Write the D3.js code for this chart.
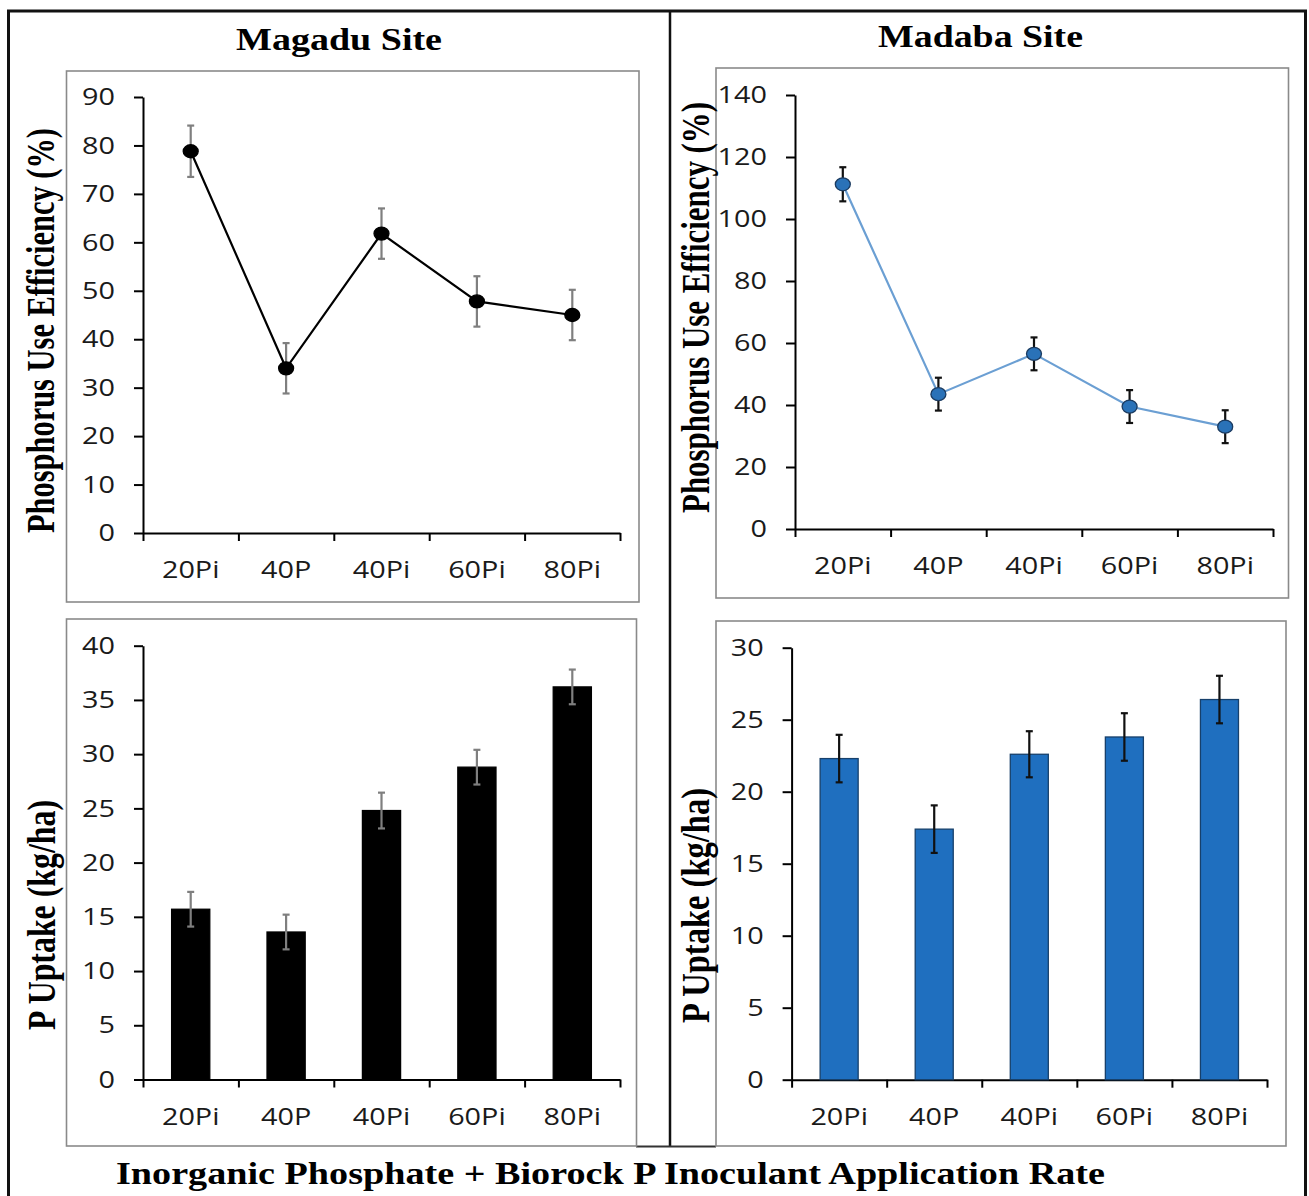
<!DOCTYPE html>
<html>
<head>
<meta charset="utf-8">
<script src="https://cdn.jsdelivr.net/npm/d3@7"></script>
<style>
body { margin: 0; background: #fff; }
</style>
</head>
<body>
<div id="chart"></div>
<script>
// treatments on the x axis
var categories = ["20Pi", "40P", "40Pi", "60Pi", "80Pi"];

// Magadu site
var magaduPUE = [78.8, 34.0, 61.8, 47.8, 45.0];
var magaduPUEErr = [5.3, 5.2, 5.2, 5.2, 5.2];
var magaduUptake = [15.7, 13.6, 24.8, 28.8, 36.2];
var magaduUptakeErr = [1.6, 1.6, 1.65, 1.6, 1.6];

// Madaba site
var madabaPUE = [111.2, 43.5, 56.5, 39.5, 33.0];
var madabaPUEErr = [5.5, 5.3, 5.3, 5.3, 5.3];
var madabaUptake = [22.3, 17.4, 22.6, 23.8, 26.4];
var madabaUptakeErr = [1.65, 1.65, 1.6, 1.65, 1.65];

// y axis tick values
var magaduPUETicks = [0, 10, 20, 30, 40, 50, 60, 70, 80, 90];
var madabaPUETicks = [0, 20, 40, 60, 80, 100, 120, 140];
var magaduUptakeTicks = [0, 5, 10, 15, 20, 25, 30, 35, 40];
var madabaUptakeTicks = [0, 5, 10, 15, 20, 25, 30];

var sansFont = "'Open Sans', 'Noto Sans', sans-serif";
var serifFont = "'Liberation Serif', 'Times New Roman', serif";
var stretch = 1.2; // the source picture is a bit wide

var svg = d3.select("#chart")
    .append("svg")
    .attr("width", 1309)
    .attr("height", 1196);

// outer frame and the divider between the two sites
svg.append("rect")
    .attr("x", 8.5).attr("y", 11)
    .attr("width", 1297).attr("height", 1200)
    .attr("fill", "none").attr("stroke", "#111").attr("stroke-width", 3);
svg.append("line")
    .attr("x1", 670).attr("x2", 670).attr("y1", 11).attr("y2", 1147)
    .attr("stroke", "#111").attr("stroke-width", 2.5);
svg.append("line")
    .attr("x1", 636).attr("x2", 716).attr("y1", 1146.5).attr("y2", 1146.5)
    .attr("stroke", "#333").attr("stroke-width", 2);

// site titles
function title(txt, x0, x1, baseline) {
    svg.append("text")
        .attr("x", (x0 + x1) / 2).attr("y", baseline)
        .attr("text-anchor", "middle")
        .attr("textLength", x1 - x0)
        .attr("lengthAdjust", "spacingAndGlyphs")
        .style("font-family", serifFont)
        .style("font-weight", "bold")
        .style("font-size", "32px")
        .text(txt);
}
title("Magadu Site", 236, 442, 50);
title("Madaba Site", 878, 1083, 47);
title("Inorganic Phosphate + Biorock P Inoculant Application Rate", 116, 1105, 1184);

var panels = [
    { box: [66.5, 71, 639, 602], xr: [143, 620], yr: [533, 97], ticks: magaduPUETicks,
      values: magaduPUE, errs: magaduPUEErr, type: "line",
      label: "Phosphorus Use Efficiency (%)", labelX: 54, labelY0: 128, labelY1: 533,
      color: "#000", stroke: "#000", lineColor: "#000", errColor: "#7f7f7f" },
    { box: [716, 68, 1288.5, 598], xr: [795, 1273], yr: [529, 95], ticks: madabaPUETicks,
      values: madabaPUE, errs: madabaPUEErr, type: "line",
      label: "Phosphorus Use Efficiency (%)", labelX: 709, labelY0: 102, labelY1: 513,
      color: "#2a72b8", stroke: "#1b3b60", lineColor: "#6b9fd3", errColor: "#111" },
    { box: [66.5, 619, 636.5, 1146], xr: [143, 620], yr: [1079.5, 645.7], ticks: magaduUptakeTicks,
      values: magaduUptake, errs: magaduUptakeErr, type: "bar",
      label: "P Uptake (kg/ha)", labelX: 55, labelY0: 800, labelY1: 1030,
      color: "#000", stroke: "#000", errColor: "#7f7f7f" },
    { box: [716, 621, 1286, 1146], xr: [791.6, 1267], yr: [1079.7, 647.7], ticks: madabaUptakeTicks,
      values: madabaUptake, errs: madabaUptakeErr, type: "bar",
      label: "P Uptake (kg/ha)", labelX: 709, labelY0: 788, labelY1: 1023,
      color: "#1f6fbf", stroke: "#17406b", errColor: "#111" }
];

panels.forEach(function(p) {
    var g = svg.append("g");

    // gray chart border
    g.append("rect")
        .attr("x", p.box[0]).attr("y", p.box[1])
        .attr("width", p.box[2] - p.box[0]).attr("height", p.box[3] - p.box[1])
        .attr("fill", "#fff").attr("stroke", "#8a8a8a").attr("stroke-width", 1.6);

    var x = d3.scaleBand()
        .domain(categories)
        .range(p.xr)
        .paddingInner(0.6)
        .paddingOuter(0.3);
    var y = d3.scaleLinear()
        .domain([0, d3.max(p.ticks)])
        .range(p.yr);

    // Y axis
    var yAxis = g.append("g")
        .attr("transform", "translate(" + p.xr[0] + ",0)")
        .call(d3.axisLeft(y).tickValues(p.ticks).tickSize(9).tickSizeOuter(0).tickPadding(19));
    yAxis.selectAll("text")
        .attr("x", -28 / stretch)
        .attr("transform", "scale(" + stretch + ",1)")
        .style("font-family", sansFont).style("font-size", "24px").attr("fill", "#1a1a1a");

    // X axis: ticks sit between the categories
    var xEdge = d3.scaleLinear().domain([0, categories.length]).range(p.xr);
    g.append("g")
        .attr("transform", "translate(0," + p.yr[0] + ")")
        .call(d3.axisBottom(xEdge).tickValues(d3.range(categories.length + 1)).tickFormat("").tickSize(8).tickSizeOuter(0));
    g.selectAll(".domain, .tick line").attr("stroke", "#000").attr("stroke-width", 2);

    g.selectAll(".xlab")
        .data(categories)
        .enter()
        .append("text")
        .attr("class", "xlab")
        .attr("transform", function(d) {
            return "translate(" + (x(d) + x.bandwidth() / 2) + "," + (p.yr[0] + 45) + ") scale(" + stretch + ",1)";
        })
        .attr("text-anchor", "middle")
        .style("font-family", sansFont).style("font-size", "24px").attr("fill", "#1a1a1a")
        .text(function(d) { return d; });

    // axis title, rotated
    g.append("text")
        .attr("transform", "translate(" + p.labelX + "," + (p.labelY0 + p.labelY1) / 2 + ") scale(1.3,1) rotate(-90)")
        .attr("text-anchor", "middle")
        .attr("textLength", p.labelY1 - p.labelY0)
        .attr("lengthAdjust", "spacingAndGlyphs")
        .style("font-family", serifFont).style("font-weight", "bold").style("font-size", "31px")
        .text(p.label);

    var cx = function(d, i) { return x(categories[i]) + x.bandwidth() / 2; };

    if (p.type == "bar") {
        g.selectAll(".bar")
            .data(p.values)
            .enter()
            .append("rect")
            .attr("x", function(d, i) { return x(categories[i]); })
            .attr("y", function(d) { return y(d); })
            .attr("width", x.bandwidth())
            .attr("height", function(d) { return y(0) - y(d); })
            .attr("fill", p.color)
            .attr("stroke", p.stroke).attr("stroke-width", 1.3);
    }

    // error bars
    var eb = g.selectAll(".err")
        .data(p.values)
        .enter()
        .append("g")
        .attr("stroke", p.errColor).attr("stroke-width", 2.2);
    eb.append("line")
        .attr("x1", cx).attr("x2", cx)
        .attr("y1", function(d, i) { return y(d + p.errs[i]); })
        .attr("y2", function(d, i) { return y(d - p.errs[i]); });
    [1, -1].forEach(function(s) {
        eb.append("line")
            .attr("x1", function(d, i) { return cx(d, i) - 3.5; })
            .attr("x2", function(d, i) { return cx(d, i) + 3.5; })
            .attr("y1", function(d, i) { return y(d + s * p.errs[i]); })
            .attr("y2", function(d, i) { return y(d + s * p.errs[i]); });
    });

    if (p.type == "line") {
        g.append("path")
            .datum(p.values)
            .attr("d", d3.line().x(cx).y(function(d) { return y(d); }))
            .attr("fill", "none")
            .attr("stroke", p.lineColor)
            .attr("stroke-width", 2.2);
        g.selectAll(".pt")
            .data(p.values)
            .enter()
            .append("ellipse")
            .attr("cx", cx)
            .attr("cy", function(d) { return y(d); })
            .attr("rx", 7.5).attr("ry", 6.5)
            .attr("fill", p.color)
            .attr("stroke", p.stroke).attr("stroke-width", 1.3);
    }
});
</script>
</body>
</html>
